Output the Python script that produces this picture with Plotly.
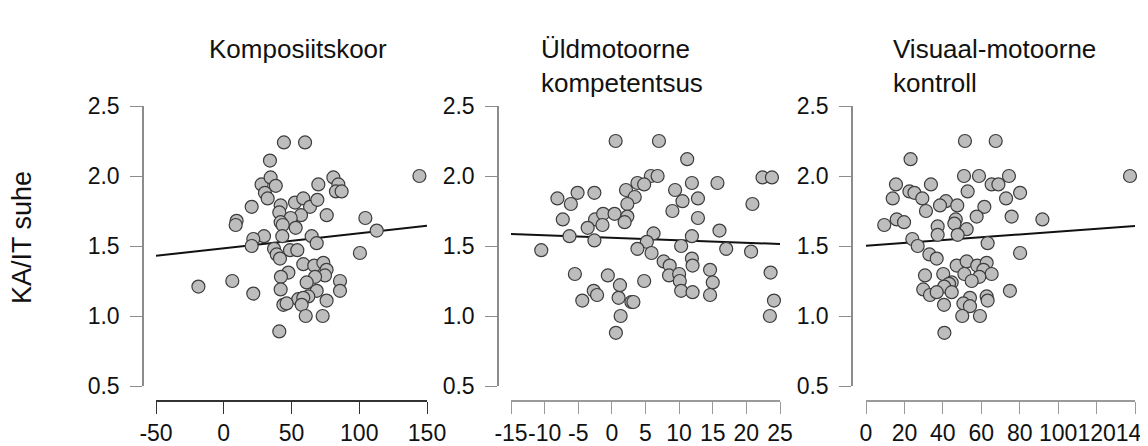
import plotly.graph_objects as go

# ---------------- data ----------------
y_title = "KA/IT suhe"
titles = ["Komposiitskoor", "Üldmotoorne<br>kompetentsus", "Visuaal-motoorne<br>kontroll"]

y_ticks = [0.5, 1.0, 1.5, 2.0, 2.5]
x_ticks1 = [-50, 0, 50, 100, 150]
x_ticks2 = [-15, -10, -5, 0, 5, 10, 15, 20, 25]
x_ticks3 = [0, 20, 40, 60, 80, 100, 120, 140]

x1 = [44.4, 60.0, 34.1, 27.9, 34.6, 38.4, 30.4, 32.4, 69.8, 80.9, 84.6, 82.8, 87.0, 20.6, 42.0,
      52.6, 58.7, 63.7, 69.1, 41.0, 57.0, 49.4, 42.0, 43.5, 53.1, 76.0, 9.5, 8.8, 104.5, 112.9,
      29.7, 21.8, 20.6, 43.2, 64.9, 68.6, 37.1, 48.9, 54.3, 39.1, 41.5, 100.5, 58.7, 66.8, 73.5,
      75.9, 74.7, 67.4, 47.7, 42.2, 61.2, 85.8, 85.8, -18.7, 6.3, 21.8, 42.0, 68.6, 62.4, 55.0,
      58.7, 75.9, 44.0, 46.4, 57.5, 60.5, 73.0, 41.0, 144.4]
y1 = [2.24, 2.24, 2.11, 1.94, 1.99, 1.93, 1.88, 1.84, 1.94, 1.99, 1.94, 1.89, 1.89, 1.78, 1.79,
      1.81, 1.84, 1.78, 1.83, 1.74, 1.72, 1.70, 1.67, 1.65, 1.63, 1.72, 1.68, 1.65, 1.70, 1.61,
      1.57, 1.55, 1.50, 1.57, 1.57, 1.52, 1.48, 1.47, 1.47, 1.44, 1.41, 1.45, 1.37, 1.36, 1.38,
      1.33, 1.29, 1.28, 1.31, 1.28, 1.24, 1.25, 1.18, 1.21, 1.25, 1.16, 1.19, 1.18, 1.14, 1.12,
      1.13, 1.11, 1.08, 1.09, 1.08, 1.00, 1.00, 0.89, 2.00]

x2 = [0.56, 7.0, 11.2, 5.8, 6.8, 3.8, 4.8, 11.9, 15.7, 22.4, 23.8, -8.1, -5.1, -2.6, -6.1,
      2.1, 3.4, 2.3, 9.4, 10.5, 12.8, 9.0, 20.9, -7.3, -2.5, -1.3, 0.4, 2.3, 1.9, -1.4,
      -3.6, 12.8, 16.0, -6.3, -2.6, 6.2, 5.2, 11.9, -10.5, 3.8, 5.9, 10.3, 17.0, 20.7, 11.9,
      12.0, 7.7, 8.6, 14.6, 8.5, 10.0, -5.5, -0.6, 4.8, 10.1, 15.0, 23.6, 1.2, -2.7, -2.2,
      1.0, 10.3, 12.0, 14.6, -4.4, 2.9, 3.2, 24.1, 1.3, 23.5, 0.6]
y2 = [2.25, 2.25, 2.12, 2.00, 2.00, 1.95, 1.94, 1.95, 1.95, 1.99, 1.99, 1.84, 1.88, 1.88, 1.80,
      1.90, 1.85, 1.80, 1.90, 1.82, 1.84, 1.75, 1.80, 1.69, 1.69, 1.73, 1.73, 1.71, 1.67, 1.65,
      1.63, 1.70, 1.61, 1.57, 1.54, 1.59, 1.53, 1.57, 1.47, 1.48, 1.45, 1.50, 1.48, 1.46, 1.41,
      1.36, 1.39, 1.36, 1.33, 1.29, 1.30, 1.30, 1.29, 1.25, 1.25, 1.24, 1.31, 1.22, 1.18, 1.15,
      1.13, 1.18, 1.17, 1.15, 1.11, 1.10, 1.10, 1.11, 1.00, 1.00, 0.88]

x3 = [51.5, 67.5, 23.2, 51.0, 58.8, 74.4, 137.4, 15.6, 33.8, 65.4, 68.9, 22.6, 25.2, 52.9, 13.9,
      29.3, 41.6, 38.5, 47.5, 61.6, 72.9, 80.2, 31.2, 57.6, 75.8, 91.8, 9.5, 16.0, 19.8, 46.7,
      46.0, 37.3, 37.3, 52.4, 47.7, 24.1, 26.9, 63.3, 33.0, 36.8, 80.2, 47.2, 52.4, 57.9, 62.8,
      61.1, 65.4, 59.0, 51.2, 40.2, 30.7, 44.6, 43.2, 55.0, 40.7, 29.8, 33.3, 36.8, 44.6, 74.9,
      54.1, 62.8, 63.3, 40.6, 50.7, 54.1, 50.1, 59.3, 40.8]
y3 = [2.25, 2.25, 2.12, 2.00, 2.00, 2.00, 2.00, 1.94, 1.94, 1.94, 1.94, 1.89, 1.88, 1.89, 1.84,
      1.84, 1.82, 1.79, 1.79, 1.78, 1.84, 1.88, 1.75, 1.71, 1.71, 1.69, 1.65, 1.69, 1.67, 1.69,
      1.66, 1.64, 1.58, 1.62, 1.58, 1.55, 1.50, 1.52, 1.44, 1.41, 1.45, 1.36, 1.39, 1.36, 1.38,
      1.33, 1.30, 1.28, 1.30, 1.30, 1.29, 1.24, 1.23, 1.25, 1.21, 1.19, 1.15, 1.17, 1.17, 1.18,
      1.13, 1.14, 1.11, 1.08, 1.09, 1.07, 1.00, 1.00, 0.88]

# regression line end points
fit_x1 = [-50, 150]
fit_y1 = [1.43, 1.645]
fit_x2 = [-15, 25]
fit_y2 = [1.586, 1.514]
fit_x3 = [0, 140]
fit_y3 = [1.502, 1.643]

# ---------------- figure ----------------
W, H = 1148, 446
OFF = 8  # page body margin offset of the rendered figure
FONT = "Liberation Sans, Arial, sans-serif"


def px_x(px):
    return (px - OFF) / W


def px_y(py):
    return 1 - (py - OFF) / H


panels = [
    (x1, y1, fit_x1, fit_y1, x_ticks1, (156, 427), 143, "#333333"),
    (x2, y2, fit_x2, fit_y2, x_ticks2, (511, 780), 498, "#9a9a9a"),
    (x3, y3, fit_x3, fit_y3, x_ticks3, (866, 1135), 852, "#9a9a9a"),
]

fig = go.Figure()
y_dom = [px_y(386), px_y(106)]
layout = {}
for i, (xs, ys, fx, fy, xt, (xa, xb), yax, xcol) in enumerate(panels, start=1):
    xname = "x" if i == 1 else f"x{i}"
    yname = "y" if i == 1 else f"y{i}"
    fig.add_trace(go.Scatter(
        x=fx, y=fy, mode="lines", xaxis=xname, yaxis=yname,
        line=dict(color="#111111", width=2), showlegend=False, hoverinfo="skip"))
    fig.add_trace(go.Scatter(
        x=xs, y=ys, mode="markers", xaxis=xname, yaxis=yname, cliponaxis=False,
        marker=dict(size=13, color="#bdbdbd", line=dict(color="#3c3c3c", width=1.2)),
        showlegend=False))
    layout[f"xaxis{'' if i == 1 else i}"] = dict(
        domain=[px_x(xa), px_x(xb)], range=[xt[0], xt[-1]], anchor="free",
        position=px_y(401), tickvals=xt, ticktext=[str(v) for v in xt],
        automargin=False, tickangle=0,
        showgrid=False, zeroline=False, showline=True, linecolor=xcol, linewidth=1.5,
        ticks="outside", ticklen=12, tickwidth=1.3, tickcolor=xcol,
        tickfont=dict(family=FONT, size=23, color="#111111"))
    layout[f"yaxis{'' if i == 1 else i}"] = dict(
        domain=y_dom, range=[0.5, 2.5], anchor="free", position=px_x(yax),
        tickvals=y_ticks, ticktext=["0.5", "1.0", "1.5", "2.0", "2.5"],
        automargin=False, ticklabelstandoff=6,
        showgrid=False, zeroline=False, showline=True, linecolor="#8c8c8c", linewidth=1.5,
        ticks="outside", ticklen=12, tickwidth=1.3, tickcolor="#8c8c8c",
        tickfont=dict(family=FONT, size=23, color="#111111"))

fig.update_layout(
    width=W, height=H, margin=dict(l=0, r=0, t=0, b=0, autoexpand=False),
    paper_bgcolor="white", plot_bgcolor="white",
    font=dict(family=FONT, color="#111111"),
    **layout)

title_pos = [(207, 32), (539, 32), (891, 32)]
for t, (px, py) in zip(titles, title_pos):
    fig.add_annotation(text=t, xref="paper", yref="paper", x=px_x(px), y=px_y(py),
                       xanchor="left", yanchor="top", align="left", showarrow=False,
                       font=dict(family=FONT, size=26, color="#111111"))

fig.add_annotation(text=y_title, xref="paper", yref="paper", x=px_x(22), y=px_y(238),
                   textangle=-90, showarrow=False, xanchor="center", yanchor="middle",
                   font=dict(family=FONT, size=27, color="#111111"))

fig.write_html("out.html")
